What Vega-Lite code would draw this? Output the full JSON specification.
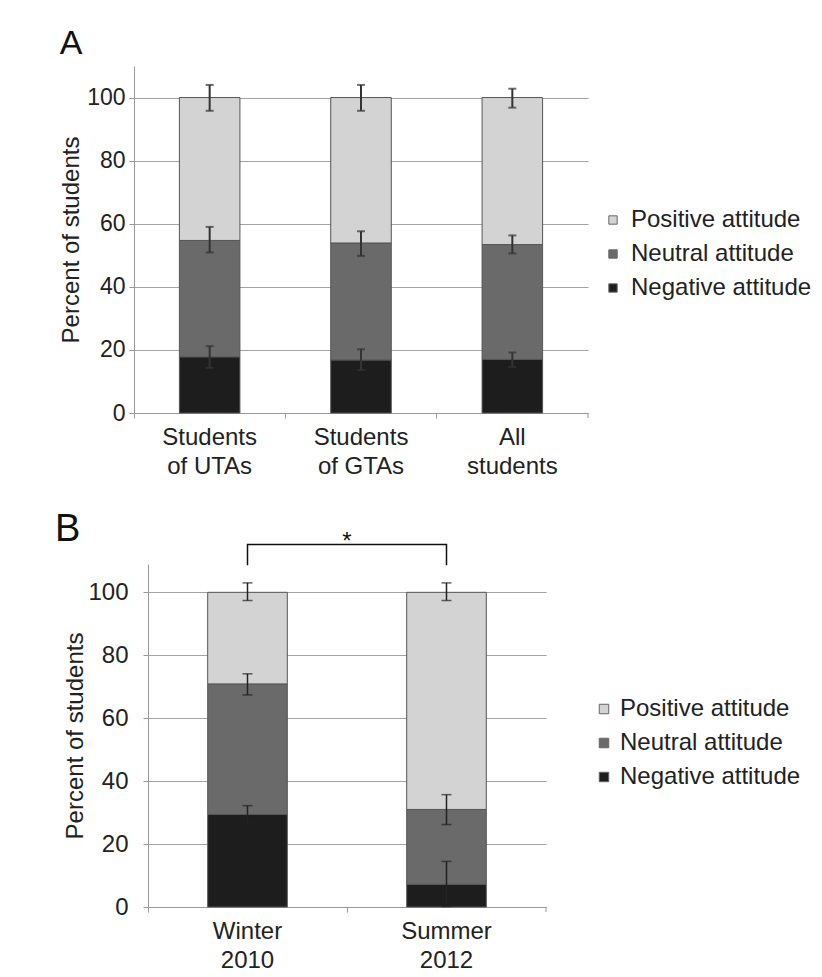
{
  "$schema": "https://vega.github.io/schema/vega-lite/v6.json",
  "background": "white",
  "padding": {"left": 54, "top": 27, "right": 5, "bottom": 5},
  "spacing": 33,
  "config": {
    "font": "Liberation Sans",
    "view": {"stroke": null},
    "axis": {"labelFont": "Liberation Sans", "titleFont": "Liberation Sans", "labelColor": "#222222", "titleColor": "#222222", "titleFontWeight": "normal", "domainColor": "#999999", "tickColor": "#999999", "gridColor": "#a3a3a3", "gridWidth": 1},
    "legend": {"labelFont": "Liberation Sans", "labelFontSize": 24, "labelColor": "#222222", "labelLimit": 0, "symbolType": "square", "symbolStrokeColor": "#666666", "symbolStrokeWidth": 1, "title": null, "padding": 0},
    "title": {"font": "Liberation Sans", "fontWeight": "normal", "color": "#111111", "anchor": "start", "frame": "bounds", "baseline": "alphabetic"}
  },
  "resolve": {"scale": {"color": "independent", "x": "independent", "y": "independent"}, "legend": {"color": "independent"}},
  "datasets": {
    "barsA": [
      {"group": "Students\nof UTAs", "attitude": "Negative attitude", "rank": 1, "percent": 17.8},
      {"group": "Students\nof UTAs", "attitude": "Neutral attitude", "rank": 2, "percent": 36.9},
      {"group": "Students\nof UTAs", "attitude": "Positive attitude", "rank": 3, "percent": 45.3},
      {"group": "Students\nof GTAs", "attitude": "Negative attitude", "rank": 1, "percent": 16.8},
      {"group": "Students\nof GTAs", "attitude": "Neutral attitude", "rank": 2, "percent": 37.1},
      {"group": "Students\nof GTAs", "attitude": "Positive attitude", "rank": 3, "percent": 46.1},
      {"group": "All\nstudents", "attitude": "Negative attitude", "rank": 1, "percent": 17.0},
      {"group": "All\nstudents", "attitude": "Neutral attitude", "rank": 2, "percent": 36.4},
      {"group": "All\nstudents", "attitude": "Positive attitude", "rank": 3, "percent": 46.6}
    ],
    "errA": [
      {"group": "Students\nof UTAs", "attitude": "Negative attitude", "lo": 14.3, "hi": 21.2},
      {"group": "Students\nof UTAs", "attitude": "Neutral attitude", "lo": 50.9, "hi": 59.0},
      {"group": "Students\nof UTAs", "attitude": "Positive attitude", "lo": 95.8, "hi": 104.0},
      {"group": "Students\nof GTAs", "attitude": "Negative attitude", "lo": 13.6, "hi": 20.2},
      {"group": "Students\nof GTAs", "attitude": "Neutral attitude", "lo": 49.8, "hi": 57.6},
      {"group": "Students\nof GTAs", "attitude": "Positive attitude", "lo": 95.8, "hi": 104.0},
      {"group": "All\nstudents", "attitude": "Negative attitude", "lo": 14.6, "hi": 19.2},
      {"group": "All\nstudents", "attitude": "Neutral attitude", "lo": 50.6, "hi": 56.3},
      {"group": "All\nstudents", "attitude": "Positive attitude", "lo": 96.8, "hi": 102.8}
    ],
    "endTickA": [
      {"group": "All\nstudents", "top": 0, "bottom": -1.6}
    ],
    "barsB": [
      {"group": "Winter\n2010", "attitude": "Negative attitude", "rank": 1, "percent": 29.4},
      {"group": "Winter\n2010", "attitude": "Neutral attitude", "rank": 2, "percent": 41.5},
      {"group": "Winter\n2010", "attitude": "Positive attitude", "rank": 3, "percent": 29.1},
      {"group": "Summer\n2012", "attitude": "Negative attitude", "rank": 1, "percent": 7.2},
      {"group": "Summer\n2012", "attitude": "Neutral attitude", "rank": 2, "percent": 23.8},
      {"group": "Summer\n2012", "attitude": "Positive attitude", "rank": 3, "percent": 69.0}
    ],
    "errB": [
      {"group": "Winter\n2010", "attitude": "Negative attitude", "lo": 26.5, "hi": 32.2},
      {"group": "Winter\n2010", "attitude": "Neutral attitude", "lo": 67.4, "hi": 74.1},
      {"group": "Winter\n2010", "attitude": "Positive attitude", "lo": 97.4, "hi": 103.0},
      {"group": "Summer\n2012", "attitude": "Negative attitude", "lo": 0.2, "hi": 14.5},
      {"group": "Summer\n2012", "attitude": "Neutral attitude", "lo": 26.2, "hi": 35.7},
      {"group": "Summer\n2012", "attitude": "Positive attitude", "lo": 97.4, "hi": 103.0}
    ],
    "endTickB": [
      {"group": "Summer\n2012", "top": 0, "bottom": -1.6}
    ],
    "bracketB": [
      {"group": "Winter\n2010", "level": 108.6, "seq": 1},
      {"group": "Winter\n2010", "level": 115.2, "seq": 2},
      {"group": "Summer\n2012", "level": 115.2, "seq": 3},
      {"group": "Summer\n2012", "level": 108.6, "seq": 4}
    ],
    "starB": [
      {"group": "Summer\n2012", "level": 113.7, "label": "*"}
    ]
  },
  "vconcat": [
    {
      "width": 454,
      "height": 347,
      "title": {"text": "A", "fontSize": 34, "offset": 5},
      "encoding": {
        "x": {
          "field": "group", "type": "nominal",
          "sort": ["Students\nof UTAs", "Students\nof GTAs", "All\nstudents"],
          "scale": {"paddingInner": 0, "paddingOuter": 0},
          "axis": {"title": null, "labelAngle": 0, "labelExpr": "split(datum.label, '\\n')", "labelFontSize": 24, "labelLineHeight": 29, "labelPadding": 7, "tickSize": 5, "bandPosition": 0, "domainColor": "#999999"}
        }
      },
      "layer": [
        {
          "data": {"name": "barsA"},
          "mark": {"type": "bar", "width": {"band": 0.4}, "stroke": "#555555", "strokeWidth": 1},
          "encoding": {
            "y": {
              "field": "percent", "type": "quantitative", "stack": "zero",
              "scale": {"domain": [0, 110], "nice": false},
              "axis": {"values": [0, 20, 40, 60, 80, 100], "title": "Percent of students", "titleFontSize": 24, "labelFontSize": 23, "labelPadding": 4, "titlePadding": 3, "tickSize": 5, "grid": true}
            },
            "color": {
              "field": "attitude", "type": "nominal",
              "scale": {"domain": ["Positive attitude", "Neutral attitude", "Negative attitude"], "range": ["#d3d3d3", "#6a6a6a", "#1d1d1d"]},
              "legend": {"orient": "none", "legendX": 467, "legendY": 142, "symbolSize": 70, "labelOffset": 6, "rowPadding": 10}
            },
            "order": {"field": "rank", "type": "quantitative"}
          }
        },
        {
          "data": {"name": "errA"},
          "mark": {"type": "rule", "color": "#333333", "strokeWidth": 2},
          "encoding": {"y": {"field": "lo", "type": "quantitative"}, "y2": {"field": "hi"}}
        },
        {
          "data": {"name": "errA"},
          "mark": {"type": "tick", "color": "#333333", "thickness": 2, "size": 8, "orient": "horizontal"},
          "encoding": {"y": {"field": "lo", "type": "quantitative"}}
        },
        {
          "data": {"name": "errA"},
          "mark": {"type": "tick", "color": "#333333", "thickness": 2, "size": 8, "orient": "horizontal"},
          "encoding": {"y": {"field": "hi", "type": "quantitative"}}
        },
        {
          "data": {"name": "endTickA"},
          "mark": {"type": "rule", "color": "#999999", "strokeWidth": 1},
          "encoding": {"x": {"field": "group", "type": "nominal", "bandPosition": 1}, "y": {"field": "top", "type": "quantitative"}, "y2": {"field": "bottom"}}
        }
      ]
    },
    {
      "width": 412,
      "height": 343,
      "title": {"text": "B", "fontSize": 38, "offset": -19, "dx": -9},
      "encoding": {
        "x": {
          "field": "group", "type": "nominal",
          "sort": ["Winter\n2010", "Summer\n2012"],
          "scale": {"paddingInner": 0, "paddingOuter": 0, "range": [14, 412]},
          "axis": {"title": null, "labelAngle": 0, "labelExpr": "split(datum.label, '\\n')", "labelFontSize": 24, "labelLineHeight": 29, "labelPadding": 7, "tickSize": 5, "bandPosition": 0, "domainColor": "#999999"}
        }
      },
      "layer": [
        {
          "data": {"name": "barsB"},
          "mark": {"type": "bar", "width": {"band": 0.4}, "stroke": "#555555", "strokeWidth": 1},
          "encoding": {
            "y": {
              "field": "percent", "type": "quantitative", "stack": "zero",
              "scale": {"domain": [0, 109], "nice": false},
              "axis": {"values": [0, 20, 40, 60, 80, 100], "title": "Percent of students", "titleFontSize": 24, "labelFontSize": 24, "labelPadding": 15, "titlePadding": 0, "tickSize": 5, "grid": true, "offset": -14}
            },
            "color": {
              "field": "attitude", "type": "nominal",
              "scale": {"domain": ["Positive attitude", "Neutral attitude", "Negative attitude"], "range": ["#d3d3d3", "#6a6a6a", "#1d1d1d"]},
              "legend": {"orient": "none", "legendX": 458, "legendY": 133, "symbolSize": 90, "labelOffset": 4, "rowPadding": 10}
            },
            "order": {"field": "rank", "type": "quantitative"}
          }
        },
        {
          "data": {"name": "errB"},
          "mark": {"type": "rule", "color": "#222222", "strokeWidth": 1.5},
          "encoding": {"y": {"field": "lo", "type": "quantitative"}, "y2": {"field": "hi"}}
        },
        {
          "data": {"name": "errB"},
          "mark": {"type": "tick", "color": "#222222", "thickness": 1.5, "size": 10, "orient": "horizontal"},
          "encoding": {"y": {"field": "lo", "type": "quantitative"}}
        },
        {
          "data": {"name": "errB"},
          "mark": {"type": "tick", "color": "#222222", "thickness": 1.5, "size": 10, "orient": "horizontal"},
          "encoding": {"y": {"field": "hi", "type": "quantitative"}}
        },
        {
          "data": {"name": "endTickB"},
          "mark": {"type": "rule", "color": "#999999", "strokeWidth": 1},
          "encoding": {"x": {"field": "group", "type": "nominal", "bandPosition": 1}, "y": {"field": "top", "type": "quantitative"}, "y2": {"field": "bottom"}}
        },
        {
          "data": {"name": "bracketB"},
          "mark": {"type": "line", "color": "#111111", "strokeWidth": 1.5},
          "encoding": {"y": {"field": "level", "type": "quantitative"}, "order": {"field": "seq", "type": "quantitative"}}
        },
        {
          "data": {"name": "starB"},
          "mark": {"type": "text", "fontSize": 24, "baseline": "alphabetic", "align": "center", "color": "#111111"},
          "encoding": {"x": {"field": "group", "type": "nominal", "bandPosition": 0}, "y": {"field": "level", "type": "quantitative"}, "text": {"field": "label"}}
        }
      ]
    }
  ]
}
